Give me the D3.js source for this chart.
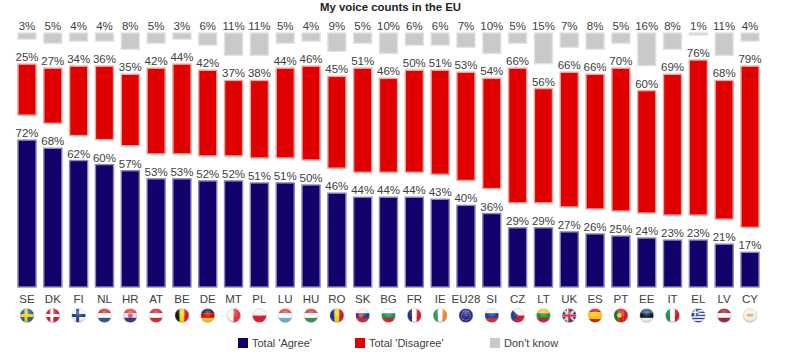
<!DOCTYPE html>
<html>
<head>
<meta charset="utf-8">
<script src="https://d3js.org/d3.v7.min.js"></script>
<style>
  body { margin: 0; background: #fff; }
  text { font-family: "Liberation Sans", Arial, sans-serif; fill: #404040; }
</style>
</head>
<body>
<div id="chart"></div>
<script>
// values
const countries = ["SE","DK","FI","NL","HR","AT","BE","DE","MT","PL","LU","HU","RO","SK","BG","FR","IE","EU28","SI","CZ","LT","UK","ES","PT","EE","IT","EL","LV","CY"];
const agree    = [72,68,62,60,57,53,53,52,52,51,51,50,46,44,44,44,43,40,36,29,29,27,26,25,24,23,23,21,17];
const disagree = [25,27,34,36,35,42,44,42,37,38,44,46,45,51,46,50,51,53,54,66,56,66,66,70,60,69,76,68,79];
const dontKnow = [3,5,4,4,8,5,3,6,11,11,5,4,9,5,10,6,6,7,10,5,15,7,8,5,16,8,1,11,4];
const seriesNames = ["Total 'Agree'", "Total 'Disagree'", "Don't know"];

const width = 797, height = 359;
const colors = ["#14006a", "#e00000", "#c9c9c9"];
const strokes = ["#8a86bc", "#f3a79c", "#e2e2e2"];

const svg = d3.select("#chart").append("svg")
    .attr("width", width)
    .attr("height", height)
    .style("display", "block");

// title
svg.append("text")
    .attr("x", 390.5).attr("y", 11)
    .attr("text-anchor", "middle")
    .style("font-size", "11.4px")
    .style("font-weight", "bold")
    .style("fill", "#222")
    .text("My voice counts in the EU");

// scales: the three blocks are stacked with a blank gap between them
const gap = 12.25;
const x = d3.scaleBand().domain(countries).range([14.1, 762.9]).paddingInner(0.3).paddingOuter(0.15);
const y = d3.scaleLinear().domain([0, 100 + 2 * gap]).range([287, 33]);

const rows = countries.map((c, i) => ({ c, vals: [agree[i], disagree[i], dontKnow[i]] }));

[0, 1, 2].forEach(s => {
    const base = d => d3.sum(d.vals.slice(0, s)) + s * gap;
    const g = svg.append("g");

    g.selectAll("rect")
        .data(rows)
        .join("rect")
        .attr("x", d => x(d.c))
        .attr("width", x.bandwidth())
        .attr("y", d => y(base(d) + d.vals[s]))
        .attr("height", d => y(base(d)) - y(base(d) + d.vals[s]))
        .attr("fill", colors[s])
        .attr("stroke", strokes[s])
        .attr("stroke-width", 1.4);

    // grey labels sit on one line, the others on top of their bar
    g.selectAll("text")
        .data(rows)
        .join("text")
        .attr("x", d => x(d.c) + x.bandwidth() / 2)
        .attr("y", d => s == 2 ? 30 : y(base(d) + d.vals[s]) - 3)
        .attr("text-anchor", "middle")
        .style("font-size", "11.5px")
        .text(d => d.vals[s] + "%");
});

// country axis
const axis = svg.append("g")
    .attr("transform", "translate(0,287)")
    .call(d3.axisBottom(x).tickSize(0).tickPadding(8));
axis.select(".domain").remove();
axis.selectAll("text")
    .style("font-size", "11.5px")
    .style("font-family", '"Liberation Sans", Arial, sans-serif')
    .attr("fill", "#404040");

// flags
const defs = svg.append("defs");
defs.append("clipPath").attr("id", "flagClip").append("circle").attr("r", 7);
const gloss = defs.append("radialGradient").attr("id", "gloss").attr("cx", "50%").attr("cy", "30%").attr("r", "75%");
gloss.append("stop").attr("offset", "0%").attr("stop-color", "#fff").attr("stop-opacity", 0.35);
gloss.append("stop").attr("offset", "55%").attr("stop-color", "#fff").attr("stop-opacity", 0);
gloss.append("stop").attr("offset", "100%").attr("stop-color", "#000").attr("stop-opacity", 0.3);

const hFlags = {
    NL: ["#c8303a","#fff","#2a4a90"], HR: ["#d8404a","#f0e0e0","#2a2a90"], AT: ["#d8202a","#fff","#d8202a"],
    LU: ["#e0404a","#fff","#60b0e8"], HU: ["#d03a3a","#fff","#3a8a4a"], BG: ["#fff","#1a9060","#d02020"],
    SK: ["#f0f0f0","#1a3a90","#d02030"], SI: ["#f0f0f0","#1a3a90","#d02030"], LT: ["#f0c820","#2a8a3a","#c02020"],
    EE: ["#1a5aa0","#111","#f4f4f4"], LV: ["#9a2030","#f0f0f0","#9a2030"], DE: ["#222","#d80000","#f8c800"],
    ES: ["#c81818","#f8c400","#f8c400","#c81818"], PL: ["#f4f4f4","#e0102a"], CZ: ["#f4f4f4","#d0102a"]
};
const vFlags = {
    RO: ["#1a2a80","#f8d000","#c81020"], BE: ["#111","#f8d800","#e01020"], FR: ["#1a2a80","#fff","#e01020"],
    IE: ["#209a50","#fff","#f08020"], IT: ["#109048","#fff","#d81020"], MT: ["#f4f4f4","#e0303a"], PT: ["#186a30","#e01010","#e01010"]
};
const crossFlags = { SE: ["#1a60a0","#f8d000"], DK: ["#d81030","#fff"], FI: ["#f4f4f4","#1a3a80"], UK: ["#1a2a70","#e8e8e8"] };

function drawFlag(g, c) {
    const add = (px, py, w, h, fill) => g.append("rect").attr("x", px).attr("y", py).attr("width", w).attr("height", h).attr("fill", fill);
    if (hFlags[c]) {
        const n = hFlags[c].length;
        hFlags[c].forEach((col, i) => add(-7, -7 + i * 14 / n, 14, 14 / n + 0.2, col));
    } else if (vFlags[c]) {
        const n = vFlags[c].length;
        vFlags[c].forEach((col, i) => add(-7 + i * 14 / n, -7, 14 / n + 0.2, 14, col));
    } else if (crossFlags[c]) {
        add(-7, -7, 14, 14, crossFlags[c][0]);
        add(-7, -1.5, 14, 3, crossFlags[c][1]);
        add(-2.5, -7, 3, 14, crossFlags[c][1]);
    }
    if (c == "UK") {
        g.append("path").attr("d", "M-7,-7L7,7M7,-7L-7,7").attr("stroke", "#d8d0d8").attr("stroke-width", 2.5);
        add(-7, -1, 14, 2, "#c81030");
        add(-1, -7, 2, 14, "#c81030");
    }
    if (c == "CZ") g.append("path").attr("d", "M-7,-7L1,0L-7,7Z").attr("fill", "#1a3a80");
    if (c == "SK" || c == "HR") g.append("circle").attr("cx", c == "SK" ? -2 : 0).attr("r", 2.4).attr("fill", "#e04050");
    if (c == "PT") g.append("circle").attr("cx", -1.5).attr("r", 2.4).attr("fill", "#f0c820");
    if (c == "EU28") {
        add(-7, -7, 14, 14, "#23238e");
        d3.range(12).forEach(i => g.append("circle")
            .attr("cx", 4.5 * Math.cos(i * Math.PI / 6))
            .attr("cy", 4.5 * Math.sin(i * Math.PI / 6))
            .attr("r", 0.5).attr("fill", "#d8c850"));
    }
    if (c == "EL") {
        d3.range(9).forEach(i => add(-7, -7 + i * 14 / 9, 14, 14 / 9 + 0.1, i % 2 ? "#fff" : "#2040a0"));
        add(-7, -7, 7, 7.8, "#2040a0");
        add(-7, -4, 7, 1.4, "#fff");
        add(-4, -7, 1.4, 7.8, "#fff");
    }
    if (c == "CY") {
        add(-7, -7, 14, 14, "#f2f0e6");
        g.append("ellipse").attr("rx", 3.5).attr("ry", 1.6).attr("cy", -0.5).attr("fill", "#d8a860");
    }
}

const flags = svg.append("g").selectAll("g")
    .data(countries)
    .join("g")
    .attr("transform", d => `translate(${x(d) + x.bandwidth() / 2},315.5)`);
flags.each(function(d) {
    const f = d3.select(this);
    const inner = f.append("g").attr("clip-path", "url(#flagClip)");
    drawFlag(inner, d);
    f.append("circle").attr("r", 7).attr("fill", "url(#gloss)");
    f.append("circle").attr("r", 7).attr("fill", "none").attr("stroke", "#bbb").attr("stroke-width", 0.4);
});

// legend
const legendX = [238, 355, 490];
const legend = svg.append("g").selectAll("g")
    .data(seriesNames)
    .join("g")
    .attr("transform", (d, i) => `translate(${legendX[i]},338)`);
legend.append("rect")
    .attr("width", 10).attr("height", 10)
    .attr("fill", (d, i) => colors[i]);
legend.append("text")
    .attr("x", 14).attr("y", 9)
    .style("font-size", "11px")
    .text(d => d);
</script>
</body>
</html>
